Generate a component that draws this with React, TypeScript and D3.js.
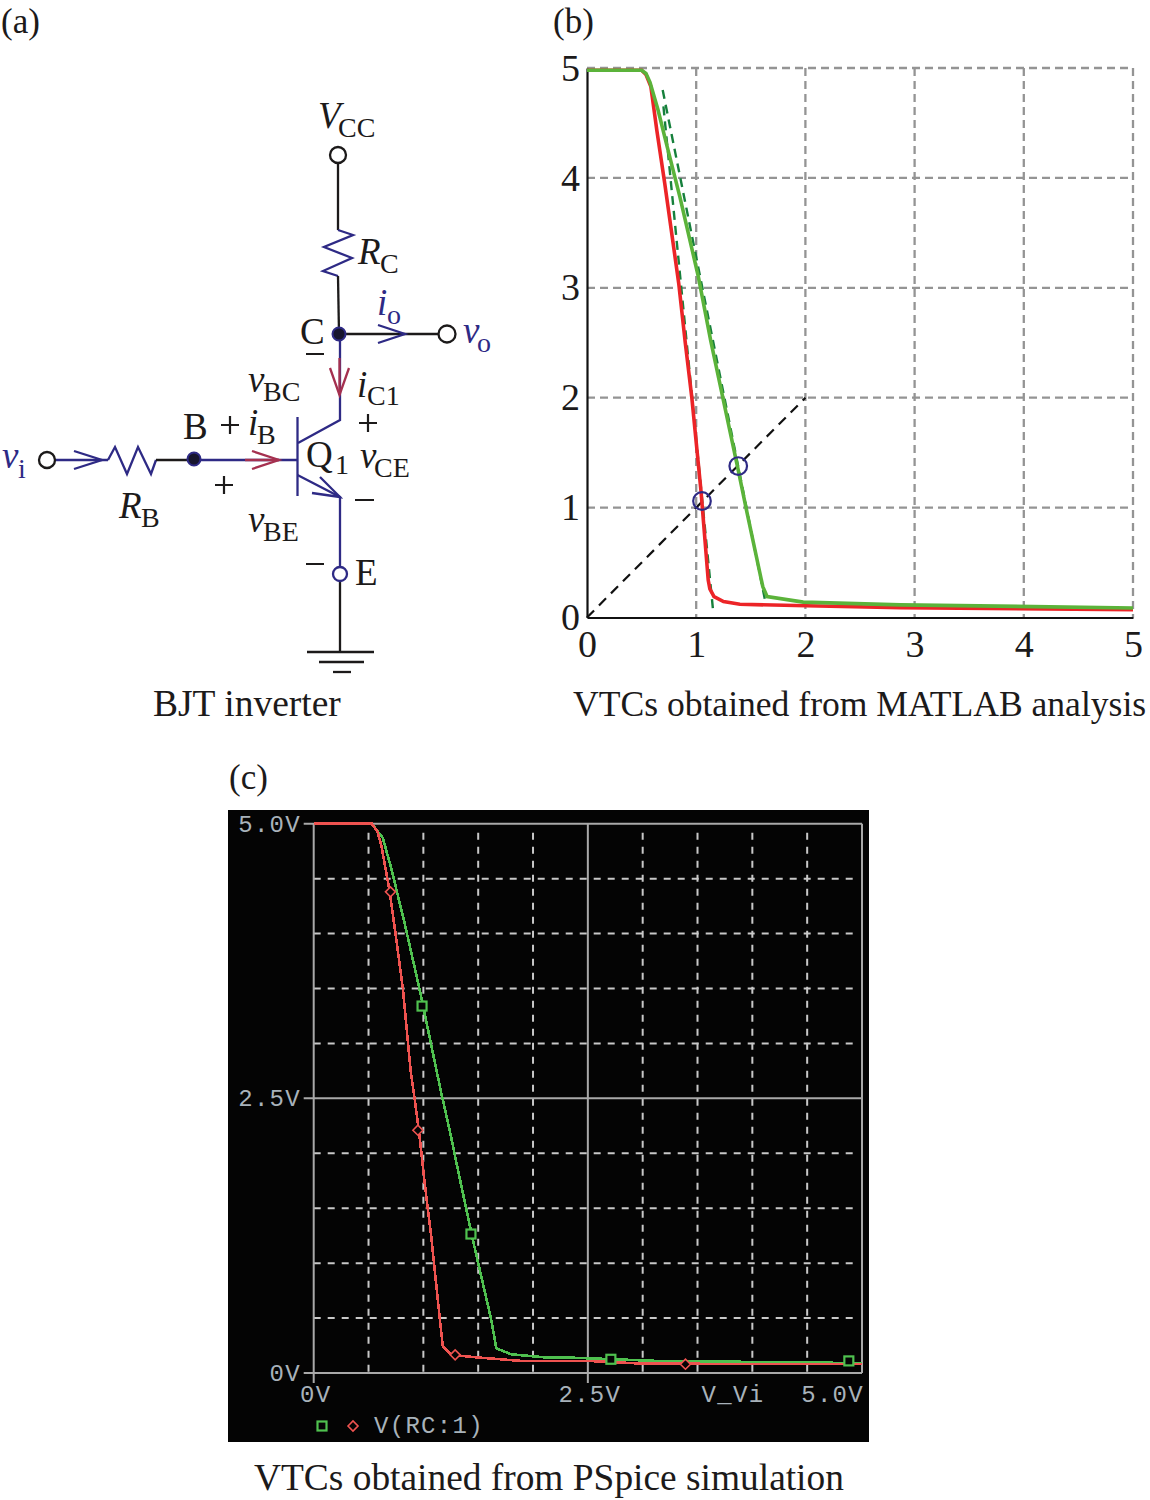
import * as d3 from "d3";
import { useEffect, useRef } from "react";

// panel (b), MATLAB curves: [vi, vo]
const matlabTicks = [0, 1, 2, 3, 4, 5];
const matlabRed: [number, number][] = [
  [0, 4.98], [0.5, 4.98], [0.54, 4.94], [0.585, 4.83], [0.64, 4.43], [0.712, 3.95], [0.84, 3.04],
  [0.9, 2.5], [0.96, 2.0], [1.044, 1.15], [1.11, 0.34], [1.125, 0.26], [1.163, 0.19], [1.25, 0.145],
  [1.4, 0.12], [2.01, 0.107], [2.87, 0.09], [5, 0.07],
];
const matlabGreen: [number, number][] = [
  [0, 4.98], [0.5, 4.98], [0.54, 4.95], [0.577, 4.87], [0.65, 4.62], [0.73, 4.3], [0.85, 3.83],
  [1.02, 3.1], [1.133, 2.52], [1.385, 1.34], [1.46, 0.98], [1.61, 0.28], [1.65, 0.19], [1.98, 0.14],
  [2.87, 0.115], [5, 0.087],
];
const tangentRed: [number, number][] = [[0.7, 4.65], [1.157, 0.04]];
const tangentGreen: [number, number][] = [[0.693, 4.8], [1.64, 0.11]];
const unityLine: [number, number][] = [[0, 0], [2, 2]];
const switchPoints: [number, number][] = [[1.053, 1.06], [1.385, 1.378]];

// panel (c), PSpice curves
const spiceTicks = [0, 0.5, 1, 1.5, 2, 2.5, 3, 3.5, 4, 4.5, 5];
const spiceRed: [number, number][] = [
  [0, 5], [0.53, 5], [0.58, 4.93], [0.617, 4.8], [0.69, 4.4], [0.753, 3.95], [0.814, 3.49], [0.884, 2.75],
  [0.92, 2.5], [0.966, 2.15], [1.012, 1.73], [1.072, 1.24], [1.148, 0.51], [1.178, 0.24],
  [1.255, 0.165], [1.513, 0.14], [1.893, 0.11], [2.5, 0.11], [3, 0.085], [5, 0.08],
];
const spiceGreen: [number, number][] = [
  [0, 5], [0.53, 5], [0.63, 4.87], [0.708, 4.59], [0.83, 4.09], [0.966, 3.49], [1.163, 2.55],
  [1.24, 2.21], [1.315, 1.85], [1.452, 1.21], [1.62, 0.48], [1.665, 0.225], [1.8, 0.17],
  [2.136, 0.14], [2.34, 0.14], [3.13, 0.11], [5, 0.09],
];
const spiceSquares: [number, number][] = [[0.988, 3.34], [1.434, 1.265], [2.71, 0.125], [4.88, 0.11]];
const spiceDiamonds: [number, number][] = [[0.7, 4.38], [0.95, 2.21], [1.29, 0.165], [3.39, 0.08]];
const spiceYLabels: [number, string][] = [[5, "5.0V"], [2.5, "2.5V"], [0, "0V"]];
const spiceXLabels: [number, string][] = [[0, "0V"], [2.5, "2.5V"], [5, "5.0V"]];

// schematic labels: main text, subscript, x, baseline, subscript x, subscript baseline, italic, colour
type Label = [string, string, number, number, number, number, boolean, string];
const INK = "#1c1a1a";
const WIRE = "#2e2a85";
const circuitLabels: Label[] = [
  ["V", "CC", 318, 128, 338, 137, true, INK],
  ["R", "C", 358, 264, 380, 273, true, INK],
  ["i", "o", 377, 315, 387, 324, true, WIRE],
  ["C", "", 300, 344, 0, 0, false, INK],
  ["v", "o", 463, 343, 477, 352, true, WIRE],
  ["v", "BC", 248, 392, 263, 401, true, INK],
  ["i", "C1", 357, 397, 367, 405, true, INK],
  ["B", "", 183, 439, 0, 0, false, INK],
  ["i", "B", 248, 435, 257, 444, true, INK],
  ["Q", "1", 306, 467, 335, 474, false, INK],
  ["v", "CE", 360, 468, 374, 477, true, INK],
  ["R", "B", 119, 518, 141, 527, true, INK],
  ["v", "BE", 248, 532, 263, 541, true, INK],
  ["E", "", 355, 585, 0, 0, false, INK],
  ["v", "i", 2, 468, 18, 478, true, WIRE],
];
const plusSigns: [number, number][] = [[230, 425], [368, 423], [224, 485]];
const minusSigns: [number, number, number][] = [[306, 324, 354], [355, 374, 500], [306, 324, 564]];

// wires of the schematic: colour and polyline
type Wire = [string, [number, number][]];
const RED_ARROW = "#a5304f";
const wires: Wire[] = [
  [INK, [[338, 163], [338, 230]]],
  [WIRE, [[338, 230], [353, 235], [324, 247], [352, 258], [323, 271], [338, 276]]],
  [INK, [[338, 276], [339, 334]]],
  [INK, [[339, 334], [438, 334]]],
  [WIRE, [[378, 325], [405, 334], [378, 343]]],
  [WIRE, [[340, 334], [340, 420], [298, 443]]],
  [RED_ARROW, [[330, 368], [339.5, 395], [349, 368]]],
  [RED_ARROW, [[339.5, 358], [339.5, 395]]],
  [WIRE, [[297.5, 417], [297.5, 496]]],
  [WIRE, [[297.5, 475], [340, 497], [340, 567]]],
  [WIRE, [[320, 477], [340, 497], [312, 493]]],
  [INK, [[340, 581], [340, 652]]],
  [INK, [[307, 652], [374, 652]]],
  [INK, [[319, 662], [364, 662]]],
  [INK, [[333, 672], [351, 672]]],
  [WIRE, [[55, 460], [108, 460]]],
  [WIRE, [[74, 451], [102, 460], [74, 469]]],
  [WIRE, [[108, 460], [115, 447], [127, 474], [138, 447], [151, 474], [156, 460]]],
  [INK, [[156, 460], [194, 460]]],
  [WIRE, [[194, 460], [297, 460]]],
  [RED_ARROW, [[252, 451], [279, 460], [252, 469]]],
  [RED_ARROW, [[245, 460], [279, 460]]],
];
const terminals: [number, number, number, string][] = [
  [338, 155, 8, INK], [447, 334, 8.5, INK], [340, 574, 7, WIRE], [47, 460, 8, INK],
];
const nodes: [number, number][] = [[339, 334], [194, 459]];

const captions: [string, number, number, number][] = [
  ["(a)", 1, 33, 35],
  ["(b)", 553, 33, 35],
  ["(c)", 229, 789, 35],
  ["BJT inverter", 153, 716, 37.5],
  ["VTCs obtained from MATLAB analysis", 573, 716, 35.6],
  ["VTCs obtained from PSpice simulation", 254, 1490, 37.4],
];

const SERIF = "'Liberation Serif', serif";
const MONO = "'Liberation Mono', monospace";

export default function App() {
  const ref = useRef<SVGSVGElement>(null);

  useEffect(() => {
    if (!ref.current) return;
    const svg = d3.select(ref.current);
    svg.selectAll("*").remove();
    svg.append("rect").attr("width", 1150).attr("height", 1500).attr("fill", "#fff");

    const poly = d3.line();

    // captions
    svg.selectAll(".caption").data(captions).enter().append("text")
      .attr("class", "caption")
      .attr("x", (d) => d[1]).attr("y", (d) => d[2])
      .attr("font-family", SERIF).attr("font-size", (d) => d[3]).attr("fill", INK)
      .text((d) => d[0]);

    // (a) schematic
    const circuit = svg.append("g");
    circuit.selectAll("path").data(wires).enter().append("path")
      .attr("d", (d) => poly(d[1]))
      .attr("fill", "none").attr("stroke", (d) => d[0]).attr("stroke-width", 2.3);
    circuit.selectAll("circle.term").data(terminals).enter().append("circle")
      .attr("class", "term")
      .attr("cx", (d) => d[0]).attr("cy", (d) => d[1]).attr("r", (d) => d[2])
      .attr("fill", "#fff").attr("stroke", (d) => d[3]).attr("stroke-width", 2.3);
    circuit.selectAll("circle.node").data(nodes).enter().append("circle")
      .attr("class", "node")
      .attr("cx", (d) => d[0]).attr("cy", (d) => d[1]).attr("r", 6.5)
      .attr("fill", "#17152e").attr("stroke", WIRE).attr("stroke-width", 2);

    circuitLabels.forEach(([main, sub, x, y, sx, sy, italic, color]) => {
      circuit.append("text").attr("x", x).attr("y", y)
        .attr("font-family", SERIF).attr("font-size", 37)
        .attr("font-style", italic ? "italic" : "normal").attr("fill", color).text(main);
      if (sub) {
        circuit.append("text").attr("x", sx).attr("y", sy)
          .attr("font-family", SERIF).attr("font-size", 28).attr("fill", color).text(sub);
      }
    });
    plusSigns.forEach(([x, y]) => {
      circuit.append("path")
        .attr("d", `M${x - 9},${y}H${x + 9}M${x},${y - 9}V${y + 9}`)
        .attr("stroke", INK).attr("stroke-width", 2.2).attr("fill", "none");
    });
    minusSigns.forEach(([x0, x1, y]) => {
      circuit.append("line").attr("x1", x0).attr("x2", x1).attr("y1", y).attr("y2", y)
        .attr("stroke", INK).attr("stroke-width", 2);
    });

    // (b) MATLAB plot
    const bx = d3.scaleLinear().domain([0, 5]).range([587, 1133]);
    const by = d3.scaleLinear().domain([0, 5]).range([617.5, 68]);
    const bLine = d3.line<[number, number]>().x((d) => bx(d[0])).y((d) => by(d[1]));
    const b = svg.append("g");

    b.selectAll("line.gx").data(matlabTicks.slice(1)).enter().append("line")
      .attr("class", "gx")
      .attr("x1", (d) => bx(d)).attr("x2", (d) => bx(d))
      .attr("y1", by(5)).attr("y2", by(0))
      .attr("stroke", "#949494").attr("stroke-width", 2.3).attr("stroke-dasharray", "8 5");
    b.selectAll("line.gy").data(matlabTicks.slice(1)).enter().append("line")
      .attr("class", "gy")
      .attr("x1", bx(0)).attr("x2", bx(5))
      .attr("y1", (d) => by(d)).attr("y2", (d) => by(d))
      .attr("stroke", "#949494").attr("stroke-width", 2.3).attr("stroke-dasharray", "8 5");

    const bottom = b.append("g").attr("transform", `translate(0,${by(0)})`)
      .call(d3.axisBottom(bx).tickValues(matlabTicks).tickSize(0).tickPadding(13).tickFormat(d3.format("d")));
    const left = b.append("g").attr("transform", `translate(${bx(0)},0)`)
      .call(d3.axisLeft(by).tickValues(matlabTicks).tickSize(0).tickPadding(7).tickFormat(d3.format("d")));
    [bottom, left].forEach((axis) => {
      axis.select(".domain").attr("stroke", "#111").attr("stroke-width", 2.2);
      axis.selectAll("text").attr("font-family", SERIF).attr("font-size", 38).attr("fill", INK);
    });

    b.append("path").attr("d", bLine(unityLine)).attr("fill", "none")
      .attr("stroke", "#111").attr("stroke-width", 2.2).attr("stroke-dasharray", "10 7");
    [tangentRed, tangentGreen].forEach((t) => {
      b.append("path").attr("d", bLine(t)).attr("fill", "none")
        .attr("stroke", "#16803c").attr("stroke-width", 2.4).attr("stroke-dasharray", "9 6");
    });
    b.append("path").attr("d", bLine(matlabRed)).attr("fill", "none")
      .attr("stroke", "#ec2427").attr("stroke-width", 3.6);
    b.append("path").attr("d", bLine(matlabGreen)).attr("fill", "none")
      .attr("stroke", "#5bb33a").attr("stroke-width", 3.6);
    b.selectAll("circle").data(switchPoints).enter().append("circle")
      .attr("cx", (d) => bx(d[0])).attr("cy", (d) => by(d[1])).attr("r", 8.8)
      .attr("fill", "none").attr("stroke", WIRE).attr("stroke-width", 2.2);

    // (c) PSpice plot
    const c = svg.append("g");
    c.append("rect").attr("x", 228).attr("y", 810).attr("width", 641).attr("height", 632).attr("fill", "#040404");
    const cx = d3.scaleLinear().domain([0, 5]).range([313.7, 862]);
    const cy = d3.scaleLinear().domain([0, 5]).range([1373, 823.7]);
    const cLine = d3.line<[number, number]>().x((d) => cx(d[0])).y((d) => cy(d[1]));
    const GRID = "#c8c8c8";
    const SOLID = "#a9a9a9";

    const dashedX = spiceTicks.filter((t) => t !== 0 && t !== 2.5 && t !== 5);
    c.selectAll("line.gx").data(dashedX).enter().append("line")
      .attr("class", "gx")
      .attr("x1", (d) => cx(d)).attr("x2", (d) => cx(d))
      .attr("y1", cy(5) + 9).attr("y2", cy(0))
      .attr("stroke", GRID).attr("stroke-width", 2).attr("stroke-dasharray", "7 7");
    c.selectAll("line.gy").data(dashedX).enter().append("line")
      .attr("class", "gy")
      .attr("x1", cx(0)).attr("x2", cx(5) - 7)
      .attr("y1", (d) => cy(d)).attr("y2", (d) => cy(d))
      .attr("stroke", GRID).attr("stroke-width", 2).attr("stroke-dasharray", "7 7");
    // solid frame and centre lines
    [0, 2.5, 5].forEach((t) => {
      c.append("line").attr("x1", cx(t)).attr("x2", cx(t))
        .attr("y1", cy(5)).attr("y2", cy(0) + (t === 5 ? 0 : 10))
        .attr("stroke", SOLID).attr("stroke-width", 2);
      c.append("line").attr("x1", cx(0) - 10).attr("x2", cx(5))
        .attr("y1", cy(t)).attr("y2", cy(t))
        .attr("stroke", SOLID).attr("stroke-width", 2);
    });

    c.append("path").attr("d", cLine(spiceGreen)).attr("fill", "none")
      .attr("stroke", "#4fc14f").attr("stroke-width", 2.6).attr("shape-rendering", "crispEdges");
    c.append("path").attr("d", cLine(spiceRed)).attr("fill", "none")
      .attr("stroke", "#ef5350").attr("stroke-width", 2.6).attr("shape-rendering", "crispEdges");

    const drawSquare = (x: number, y: number) =>
      c.append("rect").attr("x", x - 4.5).attr("y", y - 4.5).attr("width", 9).attr("height", 9)
        .attr("fill", "#040404").attr("stroke", "#4fc14f").attr("stroke-width", 2.2);
    const drawDiamond = (x: number, y: number) =>
      c.append("path").attr("d", `M${x - 5},${y}L${x},${y - 5}L${x + 5},${y}L${x},${y + 5}Z`)
        .attr("fill", "#040404").attr("stroke", "#ef5350").attr("stroke-width", 1.6);
    spiceSquares.forEach((d) => drawSquare(cx(d[0]), cy(d[1])));
    spiceDiamonds.forEach((d) => drawDiamond(cx(d[0]), cy(d[1])));
    drawSquare(322, 1426);
    drawDiamond(353, 1426);

    const monoText = (text: string, x: number, y: number, anchor: string) =>
      c.append("text").attr("x", x).attr("y", y).attr("text-anchor", anchor)
        .attr("font-family", MONO).attr("font-size", 24).attr("letter-spacing", 1.3)
        .attr("fill", "#a8b2ba").text(text);
    spiceYLabels.forEach(([v, s]) => monoText(s, 301, cy(v) + 8, "end"));
    spiceXLabels.forEach(([v, s]) => {
      const anchor = v === 5 ? "end" : "middle";
      monoText(s, v === 5 ? 864 : cx(v) + 2, 1402, anchor);
    });
    monoText("V_Vi", 733, 1402, "middle");
    monoText("V(RC:1)", 374, 1433, "start");
  }, []);

  return (
    <svg
      ref={ref}
      width={1150}
      height={1500}
      style={{ position: "absolute", left: 0, top: 0 }}
    />
  );
}
